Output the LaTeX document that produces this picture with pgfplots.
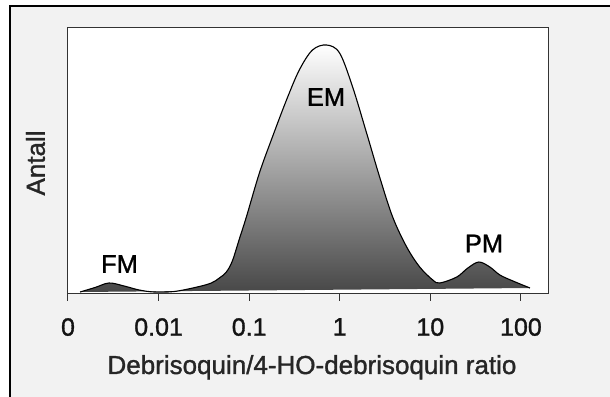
\documentclass[border=0pt]{standalone}
\usepackage{pgfplots}
\pgfplotsset{compat=1.18}
\usepackage{fontspec}
\setmainfont{Liberation Sans}
\newfontfamily\lbl{Liberation Sans}[FakeBold=1.2]
\definecolor{bggray}{RGB}{242,242,242}
\begin{document}
\begin{tikzpicture}[x=1pt,y=1pt]
\useasboundingbox (0,0) rectangle (610,396);
\fill[white] (0,0) rectangle (610,396);
\filldraw[fill=bggray, draw=black, line width=1.3pt] (10,-10) -- (10,390) -- (620,390) -- (620,-10) -- cycle;
\begin{axis}[
  at={(68pt,102pt)}, anchor=south west,
  width=480pt, height=266pt, scale only axis,
  xmode=log, xmin=0.001, xmax=199, ymin=0, ymax=266,
  axis background/.style={fill=white},
  axis line style={draw=black!80, line width=1pt},
  xtick={0.001,0.01,0.1,1,10,100},
  xticklabels={0,0.01,0.1,1,10,100},
  xminorticks=false,
  ytick=\empty,
  xtick pos=bottom, tick align=outside,
  major tick length=7pt,
  tick style={draw=black!80, line width=1pt},
  xticklabel style={font=\lbl\fontsize{25}{25}\selectfont, text=black!92, anchor=north, inner sep=0pt, yshift=-17pt},
]
\addplot[draw=black, line width=1.1pt, top color=white, bottom color=black!72, smooth, tension=0.55] coordinates {
(0.00136, 2)
(0.00199, 6.5)
(0.00284, 11)
(0.00416, 8)
(0.00610, 4)
(0.00893, 2)
(0.0149, 2.5)
(0.0267, 7)
(0.0382, 11)
(0.0469, 16)
(0.0560, 22)
(0.0652, 33)
(0.0779, 55)
(0.0931, 77)
(0.1297, 121)
(0.1806, 157)
(0.2582, 194)
(0.3577, 224)
(0.5000, 244)
(0.7145, 249)
(0.9956, 241)
(1.387, 207)
(1.978, 161)
(2.755, 117)
(3.837, 77)
(5.483, 47)
(7.636, 27)
(10.64, 14)
(12.71, 11)
(19.59, 17)
(25.94, 26)
(34.28, 32)
(45.39, 27)
(58.57, 19)
(81.63, 13)
(125.9, 6)
};
\end{axis}
\node[font=\lbl\fontsize{25.5}{25.5}\selectfont, text=black] at (119.5,132) {FM};
\node[font=\lbl\fontsize{25.5}{25.5}\selectfont, text=black] at (326,299) {EM};
\node[font=\lbl\fontsize{25.5}{25.5}\selectfont, text=black] at (484,152.5) {PM};
\node[font=\lbl\fontsize{26}{26}\selectfont, text=black!85, anchor=base] at (312,22) {Debrisoquin/4-HO-debrisoquin ratio};
\node[font=\lbl\fontsize{26}{26}\selectfont, text=black!85, rotate=90] at (35.5,233) {Antall};
\end{tikzpicture}
\end{document}
